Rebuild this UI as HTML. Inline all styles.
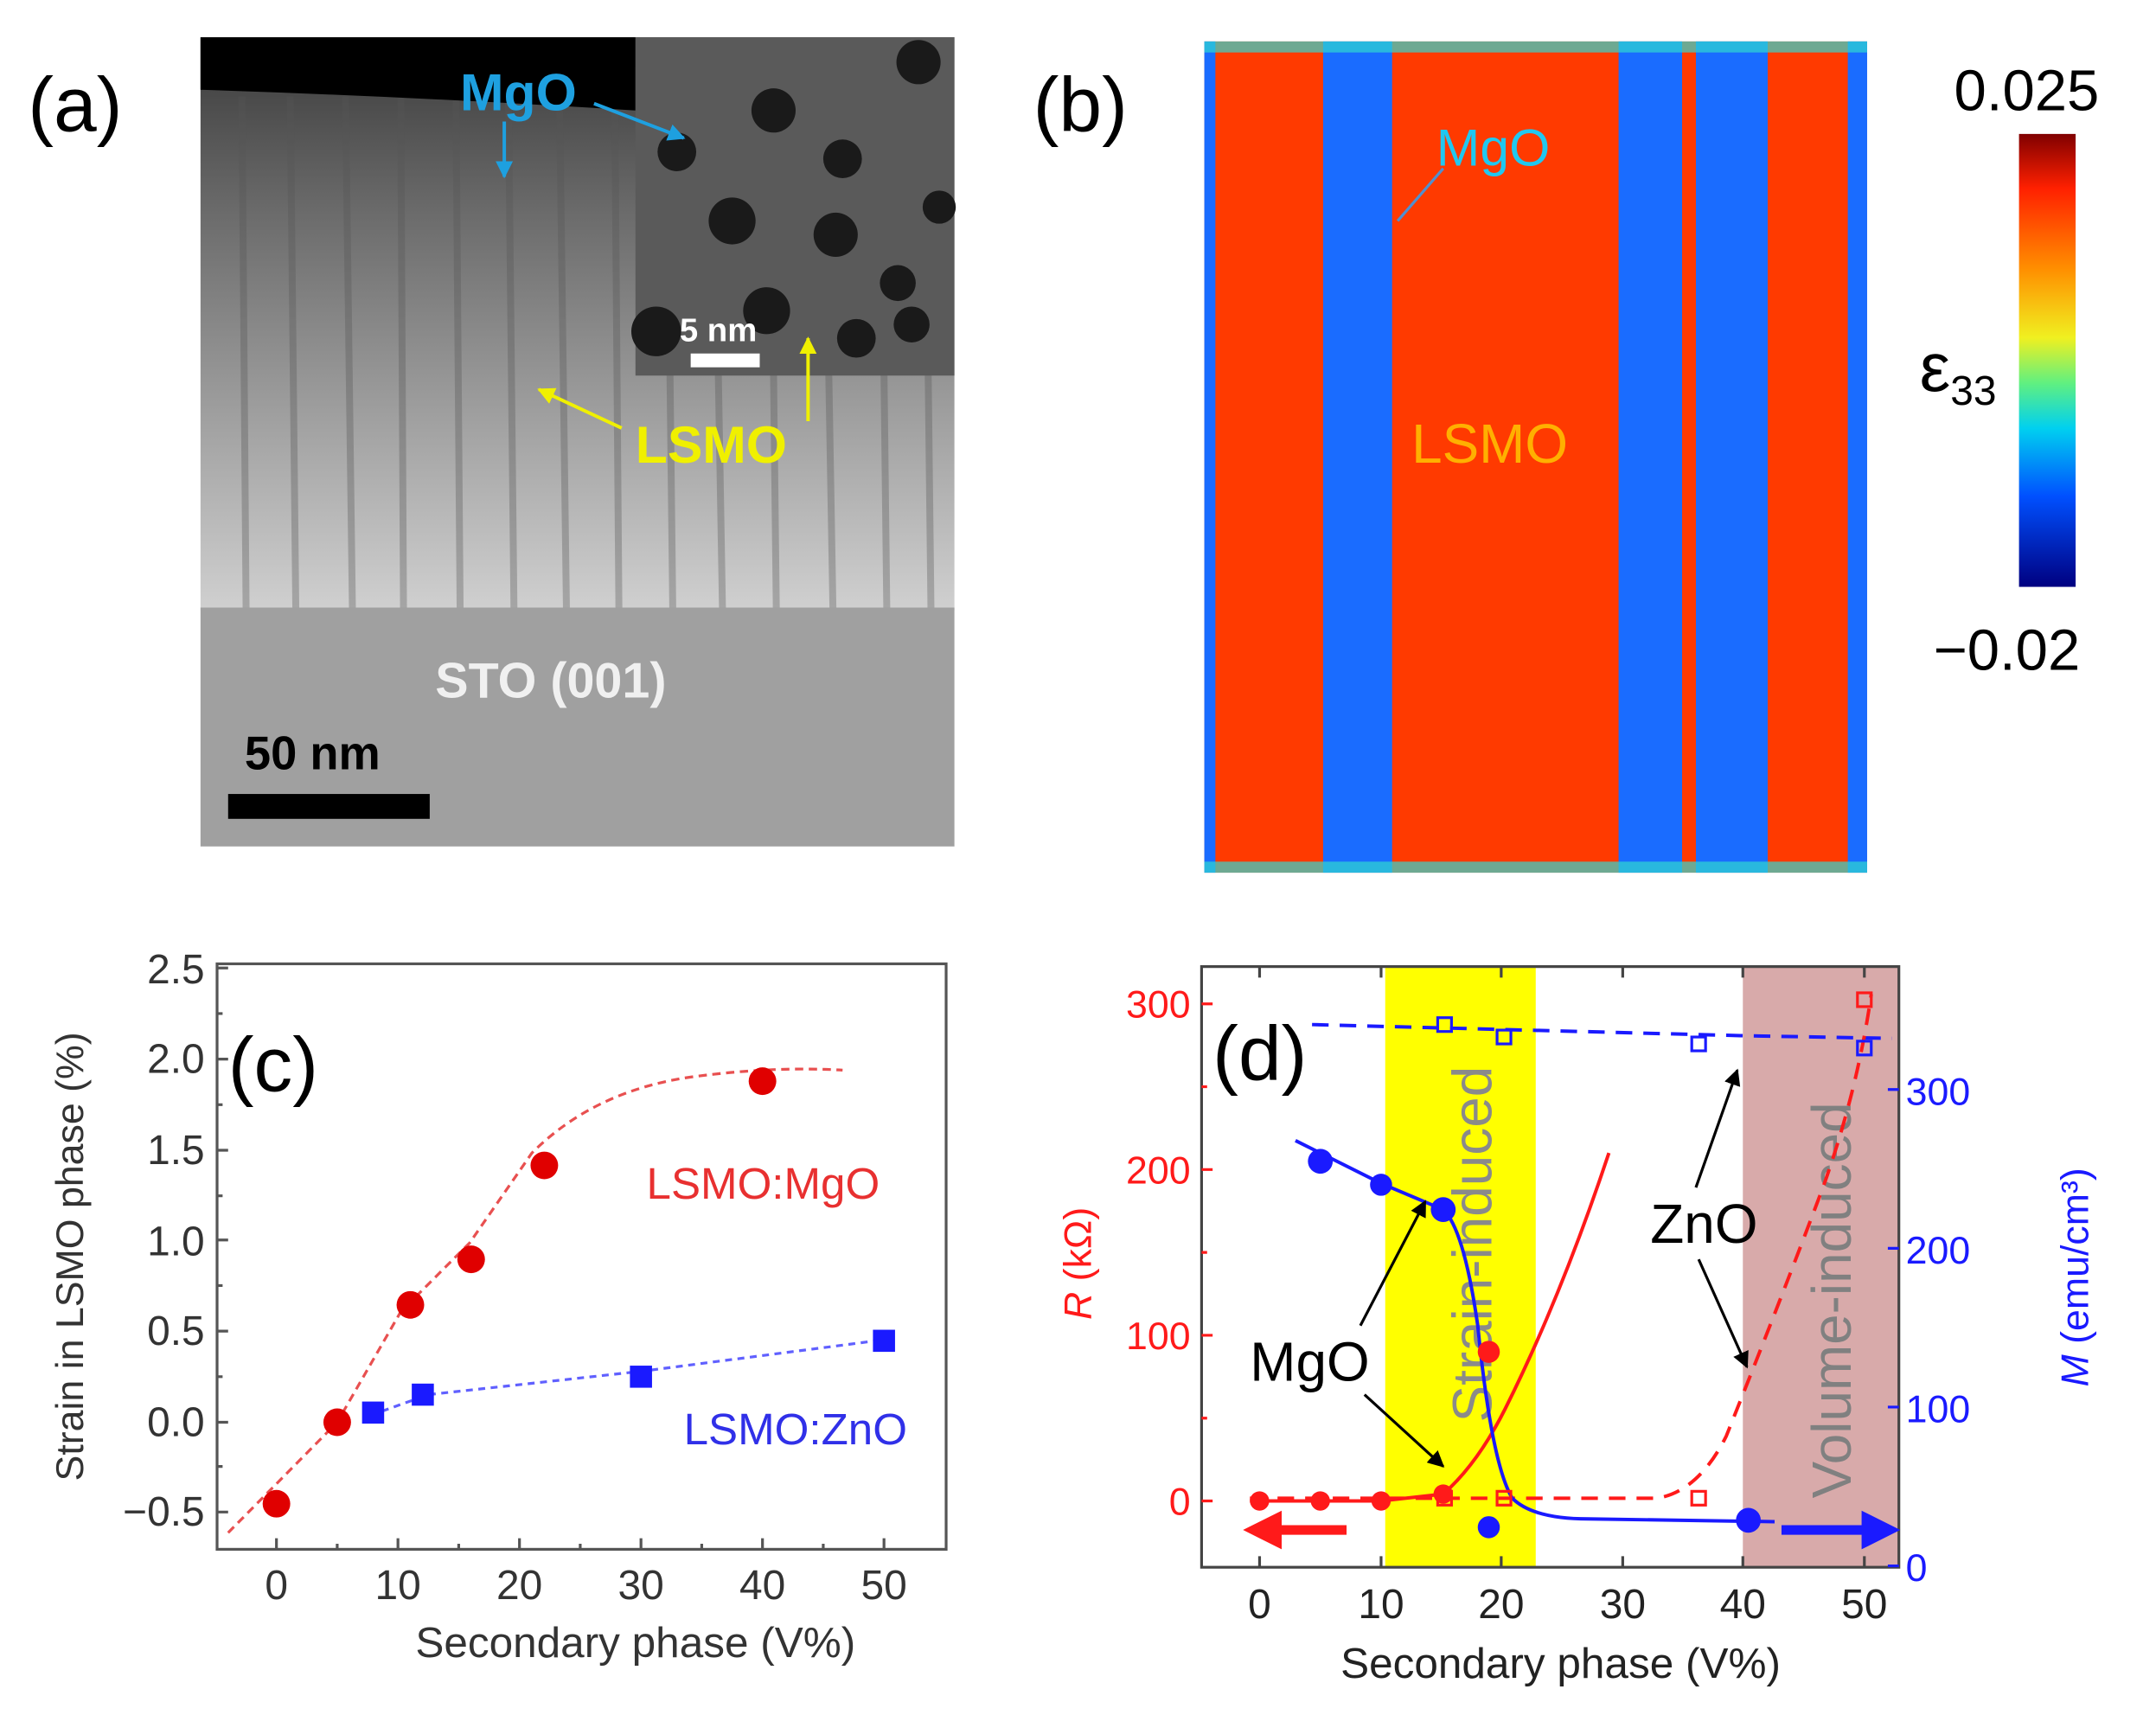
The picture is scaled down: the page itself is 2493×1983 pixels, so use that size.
<!DOCTYPE html>
<html><head><meta charset="utf-8"><style>html,body{margin:0;padding:0;background:#fff}svg{display:block}text{font-family:"Liberation Sans",sans-serif}</style></head><body>
<svg width="2493" height="1983" viewBox="0 0 1561 1242" xmlns="http://www.w3.org/2000/svg">
<defs>
<linearGradient id="tem" x1="0" y1="0" x2="0" y2="1"><stop offset="0" stop-color="#3a3a3a"/><stop offset="0.3" stop-color="#6a6a6a"/><stop offset="0.7" stop-color="#a5a5a5"/><stop offset="1" stop-color="#d0d0d0"/></linearGradient>
<linearGradient id="cb" x1="0" y1="0" x2="0" y2="1"><stop offset="0" stop-color="#800000"/><stop offset="0.12" stop-color="#ff2000"/><stop offset="0.3" stop-color="#ff9000"/><stop offset="0.45" stop-color="#f0f020"/><stop offset="0.55" stop-color="#60f080"/><stop offset="0.65" stop-color="#00d0f0"/><stop offset="0.8" stop-color="#0050ff"/><stop offset="1" stop-color="#000080"/></linearGradient>
<marker id="ab" viewBox="0 0 10 10" refX="9" refY="5" markerWidth="5" markerHeight="5" orient="auto"><path d="M0,0L10,5L0,10z" fill="#1ea0e0"/></marker>
<marker id="ay" viewBox="0 0 10 10" refX="9" refY="5" markerWidth="5" markerHeight="5" orient="auto"><path d="M0,0L10,5L0,10z" fill="#f0f000"/></marker>
<marker id="ak" viewBox="0 0 10 10" refX="9" refY="5" markerWidth="6" markerHeight="6" orient="auto"><path d="M0,0L10,5L0,10z" fill="#000"/></marker>
</defs>
<!-- (a) -->
<text x="20" y="95" font-size="56">(a)</text>
<rect x="145" y="27" width="546" height="415" fill="url(#tem)"/>
<g stroke="#555" stroke-opacity="0.35" stroke-width="5">
<line x1="175" y1="70" x2="178" y2="440"/><line x1="210" y1="70" x2="214" y2="440"/><line x1="250" y1="70" x2="255" y2="440"/><line x1="290" y1="70" x2="292" y2="440"/><line x1="330" y1="70" x2="333" y2="440"/><line x1="368" y1="70" x2="372" y2="440"/><line x1="405" y1="70" x2="410" y2="440"/><line x1="445" y1="70" x2="448" y2="440"/><line x1="485" y1="270" x2="487" y2="440"/><line x1="520" y1="270" x2="523" y2="440"/><line x1="560" y1="270" x2="562" y2="440"/><line x1="600" y1="270" x2="603" y2="440"/><line x1="640" y1="270" x2="642" y2="440"/><line x1="672" y1="270" x2="674" y2="440"/>
</g>
<path d="M145,27H460V80Q300,70 145,65z" fill="#000"/>
<rect x="145" y="440" width="546" height="173" fill="#a0a0a0"/>
<rect x="460" y="27" width="231" height="245" fill="#5a5a5a"/>
<g fill="#1a1a1a"><circle cx="665" cy="45" r="16"/><circle cx="560" cy="80" r="16"/><circle cx="610" cy="115" r="14"/><circle cx="490" cy="110" r="14"/><circle cx="530" cy="160" r="17"/><circle cx="605" cy="170" r="16"/><circle cx="680" cy="150" r="12"/><circle cx="650" cy="205" r="13"/><circle cx="555" cy="225" r="17"/><circle cx="475" cy="240" r="18"/><circle cx="620" cy="245" r="14"/><circle cx="660" cy="235" r="13"/></g>
<text x="333" y="80" font-size="38" font-weight="bold" fill="#1ea0e0">MgO</text>
<line x1="365" y1="88" x2="365" y2="128" stroke="#1ea0e0" stroke-width="2.5" marker-end="url(#ab)"/>
<line x1="430" y1="75" x2="495" y2="100" stroke="#1ea0e0" stroke-width="2.5" marker-end="url(#ab)"/>
<text x="492" y="247" font-size="24" font-weight="bold" fill="#fff">5 nm</text>
<rect x="500" y="256" width="50" height="10" fill="#fff"/>
<text x="460" y="335" font-size="38" font-weight="bold" fill="#f0f000">LSMO</text>
<line x1="450" y1="310" x2="390" y2="282" stroke="#f0f000" stroke-width="2.5" marker-end="url(#ay)"/>
<line x1="585" y1="305" x2="585" y2="245" stroke="#f0f000" stroke-width="2.5" marker-end="url(#ay)"/>
<text x="315" y="505" font-size="36" font-weight="bold" fill="#f0f0f0">STO (001)</text>
<text x="177" y="557" font-size="34" font-weight="bold" fill="#000">50 nm</text>
<rect x="165" y="575" width="146" height="18" fill="#000"/>
<!-- (b) -->
<text x="748" y="95" font-size="56">(b)</text>
<rect x="872" y="30" width="480" height="602" fill="#ff3a00"/>
<g fill="#1a6cff"><rect x="872" y="30" width="8" height="602"/><rect x="958" y="30" width="50" height="602"/><rect x="1172" y="30" width="46" height="602"/><rect x="1228" y="30" width="52" height="602"/><rect x="1338" y="30" width="14" height="602"/></g>
<g fill="#30d8d0" opacity="0.7"><rect x="872" y="30" width="480" height="8"/><rect x="872" y="624" width="480" height="8"/></g>
<text x="1040" y="120" font-size="38" fill="#20c8f0">MgO</text>
<line x1="1045" y1="122" x2="1012" y2="160" stroke="#5090d0" stroke-width="2"/>
<text x="1022" y="335" font-size="40" fill="#ffb000">LSMO</text>
<rect x="1462" y="97" width="41" height="328" fill="url(#cb)"/>
<text x="1415" y="80" font-size="42">0.025</text>
<text x="1400" y="485" font-size="42">−0.02</text>
<text x="1390" y="283" font-size="50">ε<tspan font-size="30" dy="10">33</tspan></text>
<!-- (c) -->
<rect x="157" y="698" width="528" height="424" fill="none" stroke="#555" stroke-width="2"/>
<g stroke="#555" stroke-width="2">
<path d="M200,1122v-8M288,1122v-8M376,1122v-8M464,1122v-8M552,1122v-8M640,1122v-8M244,1122v-4M332,1122v-4M420,1122v-4M508,1122v-4M596,1122v-4"/>
<path d="M157,701h8M157,767h8M157,833h8M157,898h8M157,964h8M157,1030h8M157,1095h8M157,734h4M157,800h4M157,866h4M157,931h4M157,997h4M157,1062h4"/>
</g>
<g font-size="30" fill="#333" text-anchor="end">
<text x="148" y="712">2.5</text><text x="148" y="777">2.0</text><text x="148" y="843">1.5</text><text x="148" y="909">1.0</text><text x="148" y="974">0.5</text><text x="148" y="1040">0.0</text><text x="148" y="1105">−0.5</text></g>
<g font-size="30" fill="#333" text-anchor="middle"><text x="200" y="1158">0</text><text x="288" y="1158">10</text><text x="376" y="1158">20</text><text x="464" y="1158">30</text><text x="552" y="1158">40</text><text x="640" y="1158">50</text></g>
<text x="460" y="1200" font-size="31" fill="#333" text-anchor="middle">Secondary phase (V%)</text>
<text transform="translate(60,910) rotate(-90)" font-size="28" fill="#333" text-anchor="middle">Strain in LSMO phase (%)</text>
<text x="165" y="790" font-size="56">(c)</text>
<path d="M165,1110 L244,1030 L290,950 L340,900 L385,835 Q430,790 500,780 Q560,772 610,775" fill="none" stroke="#e85050" stroke-width="2" stroke-dasharray="6,4"/>
<path d="M268,1025 L310,1010 L465,993 L642,970" fill="none" stroke="#6060ff" stroke-width="2" stroke-dasharray="5,4"/>
<g fill="#e00000"><circle cx="200" cy="1089" r="10"/><circle cx="244" cy="1030" r="10"/><circle cx="297" cy="945" r="10"/><circle cx="341" cy="912" r="10"/><circle cx="394" cy="844" r="10"/><circle cx="552" cy="783" r="10"/></g>
<g fill="#1a1aff"><rect x="262" y="1015" width="16" height="16"/><rect x="298" y="1002" width="16" height="16"/><rect x="456" y="989" width="16" height="16"/><rect x="632" y="963" width="16" height="16"/></g>
<text x="468" y="868" font-size="32" fill="#e83030">LSMO:MgO</text>
<text x="495" y="1046" font-size="32" fill="#3030e8">LSMO:ZnO</text>
<!-- (d) -->
<rect x="1003" y="700" width="109" height="435" fill="#ffff00"/>
<rect x="1262" y="700" width="113" height="435" fill="#d8aaaa"/>
<rect x="870" y="700" width="505" height="435" fill="none" stroke="#444" stroke-width="2"/>
<g stroke="#444" stroke-width="2">
<path d="M912,1135v-8M1000,1135v-8M1087,1135v-8M1175,1135v-8M1262,1135v-8M1350,1135v-8M912,700v8M1000,700v8M1087,700v8M1175,700v8M1262,700v8M1350,700v8"/>
</g>
<g stroke="#ff1a1a" stroke-width="2"><path d="M870,727h8M870,847h8M870,967h8M870,1087h8M870,787h4M870,907h4M870,1027h4"/></g>
<g stroke="#1a1aff" stroke-width="2"><path d="M1375,789h-8M1375,904h-8M1375,1019h-8M1375,1134h-8"/></g>
<g font-size="28" fill="#ff1a1a" text-anchor="end"><text x="862" y="737">300</text><text x="862" y="857">200</text><text x="862" y="977">100</text><text x="862" y="1097">0</text></g>
<g font-size="28" fill="#1a1aff"><text x="1380" y="800">300</text><text x="1380" y="915">200</text><text x="1380" y="1030">100</text><text x="1380" y="1145">0</text></g>
<g font-size="30" fill="#222" text-anchor="middle"><text x="912" y="1172">0</text><text x="1000" y="1172">10</text><text x="1087" y="1172">20</text><text x="1175" y="1172">30</text><text x="1262" y="1172">40</text><text x="1350" y="1172">50</text></g>
<text x="1130" y="1215" font-size="31" fill="#222" text-anchor="middle">Secondary phase (V%)</text>
<text transform="translate(790,915) rotate(-90)" font-size="28" fill="#ff1a1a" text-anchor="middle"><tspan font-style="italic">R</tspan> (kΩ)</text>
<text transform="translate(1512,925) rotate(-90)" font-size="28" fill="#1a1aff" text-anchor="middle"><tspan font-style="italic">M</tspan> (emu/cm³)</text>
<text x="878" y="782" font-size="56">(d)</text>
<text transform="translate(1080,1030) rotate(-90)" font-size="40" fill="#8a8a8a">Strain-induced</text>
<text transform="translate(1340,1085) rotate(-90)" font-size="40" fill="#808080">Volume-induced</text>
<path d="M950,742 L1260,750 L1370,752" fill="none" stroke="#1a1aff" stroke-width="2.5" stroke-dasharray="12,8"/>
<path d="M905,1085 L1200,1085 Q1230,1080 1250,1040 Q1290,940 1320,860 Q1345,790 1355,720" fill="none" stroke="#ff1a1a" stroke-width="2.5" stroke-dasharray="12,8"/>
<path d="M905,1087 L1000,1087 L1045,1082 Q1070,1060 1090,1020 Q1130,940 1165,835" fill="none" stroke="#ff1a1a" stroke-width="2.5"/>
<path d="M938,826 L1000,857 L1045,876 Q1060,890 1070,960 Q1080,1060 1095,1085 Q1110,1100 1150,1100 L1285,1102" fill="none" stroke="#1a1aff" stroke-width="2.5"/>
<g fill="#ff1a1a"><circle cx="912" cy="1087" r="7"/><circle cx="956" cy="1087" r="7"/><circle cx="1000" cy="1087" r="7"/><circle cx="1045" cy="1082" r="7"/><circle cx="1078" cy="979" r="8"/></g>
<g fill="none" stroke="#ff1a1a" stroke-width="2"><rect x="1041" y="1080" width="10" height="10"/><rect x="1084" y="1080" width="10" height="10"/><rect x="1225" y="1080" width="10" height="10"/><rect x="1345" y="719" width="10" height="10"/></g>
<g fill="none" stroke="#1a1aff" stroke-width="2"><rect x="1041" y="737" width="10" height="10"/><rect x="1084" y="746" width="10" height="10"/><rect x="1225" y="751" width="10" height="10"/><rect x="1345" y="754" width="10" height="10"/></g>
<g fill="#1a1aff"><circle cx="956" cy="841" r="9"/><circle cx="1000" cy="858" r="8"/><circle cx="1045" cy="876" r="9"/><circle cx="1078" cy="1106" r="8"/><circle cx="1266" cy="1101" r="9"/></g>
<path d="M975,1108 H925" stroke="#ff1a1a" stroke-width="7"/><path d="M900,1108 L928,1094 L928,1122z" fill="#ff1a1a"/>
<path d="M1290,1108 H1350" stroke="#1a1aff" stroke-width="7"/><path d="M1376,1108 L1348,1094 L1348,1122z" fill="#1a1aff"/>
<text x="905" y="1000" font-size="40">MgO</text>
<line x1="985" y1="960" x2="1032" y2="870" stroke="#000" stroke-width="2" marker-end="url(#ak)"/>
<line x1="988" y1="1010" x2="1045" y2="1062" stroke="#000" stroke-width="2" marker-end="url(#ak)"/>
<text x="1195" y="900" font-size="40">ZnO</text>
<line x1="1228" y1="860" x2="1258" y2="775" stroke="#000" stroke-width="2" marker-end="url(#ak)"/>
<line x1="1230" y1="912" x2="1265" y2="990" stroke="#000" stroke-width="2" marker-end="url(#ak)"/>
</svg>
</body></html>
